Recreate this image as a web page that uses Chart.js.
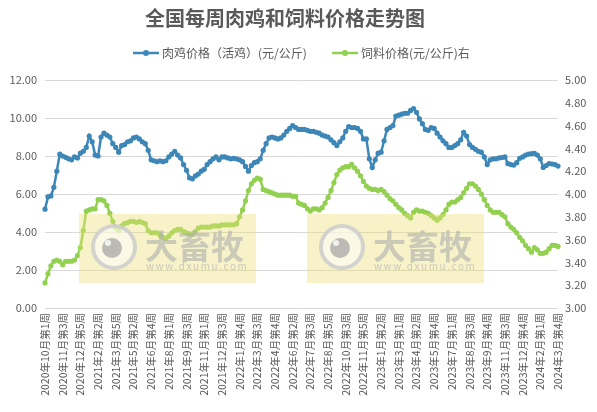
<!DOCTYPE html>
<html lang="zh-CN">
<head>
<meta charset="utf-8">
<title>全国每周肉鸡和饲料价格走势图</title>
<script src="https://cdn.jsdelivr.net/npm/chart.js@4/dist/chart.umd.min.js"></script>
<style>
  html, body { margin: 0; padding: 0; background: #fff; }
  #chart { display: block; }
</style>
</head>
<body>
<canvas id="chart" width="597" height="412"></canvas>
<script>
// ── Data ────────────────────────────────────────────────────────────────────

// weeks reported per month (some months skip a week around holidays)
const monthWeeks = [
  ["2020年10月", 4], ["2020年11月", 4], ["2020年12月", 5],
  ["2021年1月", 4], ["2021年2月", 3], ["2021年3月", 5], ["2021年4月", 4],
  ["2021年5月", 4], ["2021年6月", 4], ["2021年7月", 5], ["2021年8月", 4],
  ["2021年9月", 4], ["2021年10月", 4], ["2021年11月", 4], ["2021年12月", 5],
  ["2022年1月", 4], ["2022年2月", 3], ["2022年3月", 5], ["2022年4月", 4],
  ["2022年5月", 4], ["2022年6月", 5], ["2022年7月", 4], ["2022年8月", 5],
  ["2022年9月", 3], ["2022年10月", 4], ["2022年11月", 5], ["2022年12月", 4],
  ["2023年1月", 4], ["2023年2月", 3], ["2023年3月", 5], ["2023年4月", 4],
  ["2023年5月", 4], ["2023年6月", 5], ["2023年7月", 4], ["2023年8月", 5],
  ["2023年9月", 4], ["2023年10月", 3], ["2023年11月", 5], ["2023年12月", 4],
  ["2024年1月", 5], ["2024年2月", 3], ["2024年3月", 4],
];

const weekLabels = [];
monthWeeks.forEach(([m, n]) => {
  for (let w = 1; w <= n; w++) weekLabels.push(`${m}第${w}周`);
});

const LABEL_EVERY = 6;

// 肉鸡价格（活鸡）元/公斤 — left axis
const chickenPrice = [
  5.20, 5.85, 5.90, 6.35, 7.20, 8.10, 8.00, 7.93, 7.85, 7.80,
  7.95, 7.90, 8.15, 8.25, 8.45, 9.05, 8.75, 8.05, 8.00, 9.00,
  9.20, 9.10, 9.00, 8.65, 8.45, 8.20, 8.55, 8.60, 8.75, 8.80,
  8.95, 9.00, 8.90, 8.75, 8.65, 8.30, 7.80, 7.75, 7.70, 7.75,
  7.70, 7.75, 7.95, 8.10, 8.25, 8.05, 7.90, 7.55, 7.25, 6.85,
  6.80, 6.95, 7.05, 7.20, 7.30, 7.55, 7.70, 7.85, 7.95, 7.80,
  7.95, 7.95, 7.90, 7.85, 7.88, 7.85, 7.80, 7.70, 7.45, 7.20,
  7.50, 7.65, 7.70, 7.85, 8.30, 8.65, 8.95, 9.00, 8.95, 8.90,
  8.95, 9.10, 9.30, 9.45, 9.60, 9.50, 9.40, 9.40, 9.40, 9.35,
  9.30, 9.30, 9.25, 9.20, 9.10, 9.05, 9.00, 8.85, 8.70, 8.55,
  8.75, 8.95, 9.30, 9.55, 9.50, 9.50, 9.45, 9.30, 8.90, 8.90,
  7.85, 7.40, 7.80, 8.15, 8.20, 8.80, 9.40, 9.50, 9.60, 10.10,
  10.15, 10.20, 10.25, 10.25, 10.40, 10.50, 10.30, 9.95, 9.70, 9.40,
  9.35, 9.50, 9.45, 9.20, 9.00, 8.80, 8.65, 8.45, 8.45, 8.55,
  8.65, 8.85, 9.25, 9.05, 8.60, 8.45, 8.35, 8.25, 8.20, 7.95,
  7.55, 7.80, 7.85, 7.85, 7.90, 7.92, 7.95, 7.60, 7.55, 7.52,
  7.65, 7.88, 7.95, 8.05, 8.10, 8.12, 8.14, 8.05, 7.85, 7.40,
  7.50, 7.60, 7.58, 7.55, 7.47,
];

// 饲料价格 元/公斤 — right axis
const feedPrice = [
  3.22, 3.30, 3.37, 3.41, 3.42, 3.41, 3.38, 3.41, 3.41, 3.41,
  3.42, 3.46, 3.53, 3.68, 3.85, 3.86, 3.87, 3.87, 3.95, 3.95,
  3.94, 3.90, 3.83, 3.76, 3.70, 3.68, 3.72, 3.74, 3.75, 3.76,
  3.76, 3.75, 3.76, 3.75, 3.74, 3.68, 3.66, 3.66, 3.66, 3.64,
  3.62, 3.61, 3.63, 3.66, 3.68, 3.69, 3.69, 3.67, 3.66, 3.65,
  3.65, 3.67, 3.70, 3.71, 3.71, 3.71, 3.71, 3.72, 3.72, 3.72,
  3.73, 3.73, 3.73, 3.73, 3.73, 3.74, 3.80, 3.86, 3.94, 4.03,
  4.09, 4.12, 4.14, 4.13, 4.04, 4.03, 4.02, 4.01, 4.00, 3.99,
  3.99, 3.99, 3.99, 3.99, 3.98, 3.98, 3.92, 3.91, 3.90, 3.87,
  3.85, 3.87, 3.87, 3.86, 3.88, 3.92, 3.97, 4.03, 4.10, 4.17,
  4.21, 4.23, 4.24, 4.24, 4.26, 4.23, 4.20, 4.16, 4.11, 4.07,
  4.05, 4.04, 4.04, 4.03, 4.04, 4.02, 3.99, 3.96, 3.94, 3.91,
  3.88, 3.86, 3.83, 3.81, 3.79, 3.84, 3.86, 3.85, 3.85, 3.84,
  3.83, 3.81, 3.79, 3.77, 3.79, 3.82, 3.86, 3.91, 3.93, 3.93,
  3.95, 3.97, 4.01, 4.05, 4.09, 4.09, 4.07, 4.04, 4.00, 3.95,
  3.90, 3.86, 3.84, 3.84, 3.84, 3.82, 3.80, 3.74, 3.71, 3.69,
  3.66, 3.62, 3.59, 3.55, 3.52, 3.49, 3.53, 3.51, 3.48, 3.48,
  3.49, 3.52, 3.55, 3.55, 3.54,
];

const leftTicks  = { min: 0, max: 12, step: 2 };
const rightTicks = { min: 3, max: 5, step: 0.2 };

// ── Style ───────────────────────────────────────────────────────────────────

const BLUE  = "#3c87b7";
const GREEN = "#92d050";
const TEXT  = "#595959";
const GRID  = "#d9d9d9";
const FONT  = "'Noto Sans CJK SC', 'Noto Sans', sans-serif";

const TITLE = "全国每周肉鸡和饲料价格走势图";

// title, legend and the two site watermarks
const decorPlugin = {
  id: "decor",
  afterDatasetsDraw(chart) {
    const c = chart.ctx;
    [79, 307].forEach(x0 => {
      c.save();
      c.fillStyle = "rgba(236,222,118,0.40)";
      c.fillRect(x0, 214, 177, 69);

      // round logo
      c.beginPath();
      c.arc(x0 + 35, 247, 21, 0, Math.PI * 2);
      c.fillStyle = "rgba(255,255,255,0.55)";
      c.fill();
      c.lineWidth = 4;
      c.strokeStyle = "rgba(205,205,205,0.85)";
      c.stroke();
      c.beginPath();
      c.arc(x0 + 33, 248, 10, 0, Math.PI * 2);
      c.fillStyle = "rgba(165,165,165,0.75)";
      c.fill();
      c.beginPath();
      c.arc(x0 + 29, 243, 3, 0, Math.PI * 2);
      c.fillStyle = "rgba(255,255,255,0.8)";
      c.fill();

      c.fillStyle = "rgba(175,175,175,0.6)";
      c.textBaseline = "middle";
      c.textAlign = "left";
      c.font = `bold 33px ${FONT}`;
      c.fillText("大畜牧", x0 + 66, 246);
      c.font = `10px ${FONT}`;
      c.letterSpacing = "1.6px";
      c.fillText("www.dxumu.com", x0 + 67, 266);
      c.restore();
    });
  },
  afterDraw(chart) {
    const c = chart.ctx;
    c.save();
    c.fillStyle = TEXT;
    c.textBaseline = "middle";
    c.textAlign = "center";
    c.font = `bold 20px ${FONT}`;
    c.fillText(TITLE, 285, 18);

    c.font = `12px ${FONT}`;
    c.textAlign = "left";
    chart.data.datasets.forEach((ds, i) => {
      const lx = i === 0 ? 133 : 332;
      c.strokeStyle = ds.borderColor;
      c.lineWidth = 2.5;
      c.beginPath();
      c.moveTo(lx, 53);
      c.lineTo(lx + 26, 53);
      c.stroke();
      c.beginPath();
      c.arc(lx + 13, 53, 3, 0, Math.PI * 2);
      c.fillStyle = ds.borderColor;
      c.fill();
      c.fillStyle = TEXT;
      c.fillText(ds.label, lx + 29, 53);
    });
    c.restore();
  }
};

// ── Chart ───────────────────────────────────────────────────────────────────

new Chart(document.getElementById("chart"), {
  type: "line",
  data: {
    labels: weekLabels,
    datasets: [
      {
        label: "肉鸡价格（活鸡）(元/公斤)",
        data: chickenPrice,
        yAxisID: "y",
        borderColor: BLUE,
        backgroundColor: BLUE,
        borderWidth: 2.5,
        pointRadius: 2.6,
        pointBorderWidth: 0,
        tension: 0,
      },
      {
        label: "饲料价格(元/公斤)右",
        data: feedPrice,
        yAxisID: "y1",
        borderColor: GREEN,
        backgroundColor: GREEN,
        borderWidth: 2.5,
        pointRadius: 2.6,
        pointBorderWidth: 0,
        tension: 0,
      },
    ]
  },
  options: {
    responsive: false,
    animation: false,
    layout: { padding: { top: 80, left: 0, right: 0, bottom: 0 } },
    plugins: {
      legend: { display: false },
      title: { display: false },
      tooltip: { enabled: false },
    },
    scales: {
      x: {
        offset: false,
        grid: { display: false, drawTicks: false },
        border: { display: false },
        ticks: {
          autoSkip: false,
          maxRotation: 90,
          minRotation: 90,
          padding: 5,
          color: TEXT,
          font: { family: FONT, size: 10.5 },
          callback: (v, i) => (i % LABEL_EVERY === 0 ? weekLabels[i] : null),
        },
        afterFit: s => { s.height = 104; },
      },
      y: {
        position: "left",
        min: leftTicks.min,
        max: leftTicks.max,
        grid: { color: GRID, lineWidth: 1, drawTicks: false },
        border: { display: false },
        ticks: {
          stepSize: leftTicks.step,
          padding: 8,
          color: TEXT,
          font: { family: FONT, size: 11 },
          callback: v => v.toFixed(2),
        },
        afterFit: s => { s.width = 45; },
      },
      y1: {
        position: "right",
        min: rightTicks.min,
        max: rightTicks.max,
        grid: { display: false, drawOnChartArea: false, drawTicks: false },
        border: { display: false },
        ticks: {
          stepSize: rightTicks.step,
          padding: 7,
          color: TEXT,
          font: { family: FONT, size: 11 },
          callback: v => v.toFixed(2),
        },
        afterFit: s => { s.width = 39; },
      },
    }
  },
  plugins: [decorPlugin]
});
</script>
</body>
</html>
